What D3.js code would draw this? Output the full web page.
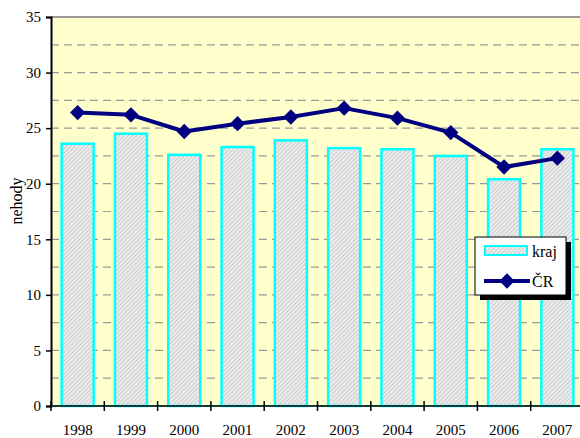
<!DOCTYPE html>
<html>
<head>
<meta charset="utf-8">
<script src="https://cdn.jsdelivr.net/npm/d3@7"></script>
<style>
  html, body { margin: 0; padding: 0; background: #fff; }
  svg { display: block; font-family: "Liberation Serif", "Times New Roman", serif; }
</style>
</head>
<body>
<div id="chart"></div>
<script>
// --- data -------------------------------------------------------------------
const years = ['1998', '1999', '2000', '2001', '2002', '2003', '2004', '2005', '2006', '2007'];
const kraj  = [23.6, 24.5, 22.6, 23.3, 23.9, 23.2, 23.1, 22.5, 20.4, 23.1];
const cr    = [26.4, 26.2, 24.7, 25.4, 26.0, 26.8, 25.9, 24.6, 21.5, 22.3];
const yTicks = [0, 5, 10, 15, 20, 25, 30, 35];
const gridVals = [2.5, 5, 7.5, 10, 12.5, 15, 17.5, 20, 22.5, 25, 27.5, 30, 32.5];

// --- layout -----------------------------------------------------------------
const W = 580, H = 438;
const PL = 51, PR = 584, PT = 17, PB = 406;

const svg = d3.select('#chart').append('svg')
  .attr('width', W).attr('height', H);

const x = d3.scaleBand().domain(years).range([PL, PR]).paddingInner(0.4).paddingOuter(0.2);
const xb = d3.scaleBand().domain(years).range([PL, PR]);
const y = d3.scaleLinear().domain([0, 35]).range([PB, PT]);

// hatch pattern for the bars
const defs = svg.append('defs');
const pat = defs.append('pattern')
  .attr('id', 'hatch').attr('patternUnits', 'userSpaceOnUse')
  .attr('width', 3).attr('height', 3)
  .attr('patternTransform', 'rotate(45)');
pat.append('rect').attr('width', 3).attr('height', 3).attr('fill', '#ececec');
pat.append('line').attr('x1', 0).attr('y1', 0).attr('x2', 0).attr('y2', 3)
  .attr('stroke', '#b2b2b2').attr('stroke-width', 1.1);

// plot background
svg.append('rect')
  .attr('x', PL).attr('y', PT)
  .attr('width', PR - PL).attr('height', PB - PT)
  .attr('fill', '#ffffcc');

// dashed gridlines
svg.append('g').selectAll('line')
  .data(gridVals)
  .join('line')
    .attr('x1', PL).attr('x2', PR)
    .attr('y1', d => y(d)).attr('y2', d => y(d))
    .attr('stroke', '#999').attr('stroke-width', 1.2)
    .attr('stroke-dasharray', '8,5');

// top border
svg.append('line')
  .attr('x1', PL).attr('x2', PR).attr('y1', PT).attr('y2', PT)
  .attr('stroke', '#999').attr('stroke-width', 2);

// --- bars -------------------------------------------------------------------
svg.append('g').selectAll('rect')
  .data(years.map((yr, i) => ({ yr, v: kraj[i] })))
  .join('rect')
    .attr('x', d => x(d.yr))
    .attr('y', d => y(d.v))
    .attr('width', x.bandwidth())
    .attr('height', d => y(0) - y(d.v))
    .attr('fill', 'url(#hatch)')
    .attr('stroke', '#00ffff').attr('stroke-width', 2.5);

// --- axes -------------------------------------------------------------------
const yAxis = d3.axisLeft(y).tickValues(yTicks).tickSize(5).tickPadding(5);
const gy = svg.append('g').attr('transform', `translate(${PL},0)`).call(yAxis);
gy.select('.domain').attr('stroke', '#000').attr('stroke-width', 2);
gy.selectAll('.tick line').attr('stroke', '#000').attr('stroke-width', 1.5);
gy.selectAll('.tick text')
  .attr('font-family', '"Liberation Serif", serif').attr('font-size', 15).attr('fill', '#000');

// x axis: line + ticks between categories
svg.append('line')
  .attr('x1', PL).attr('x2', PR).attr('y1', PB).attr('y2', PB)
  .attr('stroke', '#103c3c').attr('stroke-width', 2);
svg.append('g').selectAll('line')
  .data(years)
  .join('line')
    .attr('x1', d => xb(d)).attr('x2', d => xb(d))
    .attr('y1', PB - 5).attr('y2', PB + 5)
    .attr('stroke', '#000').attr('stroke-width', 1.5);
svg.append('g').selectAll('text')
  .data(years)
  .join('text')
    .attr('x', d => xb(d) + xb.bandwidth() / 2)
    .attr('y', 435)
    .attr('text-anchor', 'middle')
    .attr('font-size', 15)
    .text(d => d);

// y label
svg.append('text')
  .attr('transform', 'translate(22,201) rotate(-90)')
  .attr('text-anchor', 'middle')
  .attr('font-size', 16)
  .text('nehody');

// --- line series ------------------------------------------------------------
const cx = d => xb(d) + xb.bandwidth() / 2;
const line = d3.line().x(d => cx(d.yr)).y(d => y(d.v));
const crData = years.map((yr, i) => ({ yr, v: cr[i] }));

svg.append('path')
  .datum(crData)
  .attr('d', line)
  .attr('fill', 'none')
  .attr('stroke', '#000080').attr('stroke-width', 4)
  .attr('stroke-linejoin', 'round');

const diamond = d3.symbol().type(d3.symbolDiamond2).size(150);
svg.append('g').selectAll('path')
  .data(crData)
  .join('path')
    .attr('transform', d => `translate(${cx(d.yr)},${y(d.v)})`)
    .attr('d', diamond)
    .attr('fill', '#000080');

// --- legend -----------------------------------------------------------------
const lg = svg.append('g').attr('transform', 'translate(475,237)');
lg.append('rect').attr('x', 5).attr('y', 5).attr('width', 91).attr('height', 58).attr('fill', '#000');
lg.append('rect').attr('x', 0).attr('y', 0).attr('width', 91).attr('height', 58)
  .attr('fill', '#fff').attr('stroke', '#000').attr('stroke-width', 1);
lg.append('rect').attr('x', 10).attr('y', 9).attr('width', 42).attr('height', 9)
  .attr('fill', 'url(#hatch)').attr('stroke', '#00ffff').attr('stroke-width', 2);
lg.append('text').attr('x', 57).attr('y', 20).attr('font-size', 16).text('kraj');
lg.append('line').attr('x1', 9).attr('x2', 55).attr('y1', 44).attr('y2', 44)
  .attr('stroke', '#000080').attr('stroke-width', 4);
lg.append('path').attr('transform', 'translate(32,44)').attr('d', diamond).attr('fill', '#000080');
lg.append('text').attr('x', 57).attr('y', 50).attr('font-size', 16).text('ČR');
</script>
</body>
</html>
